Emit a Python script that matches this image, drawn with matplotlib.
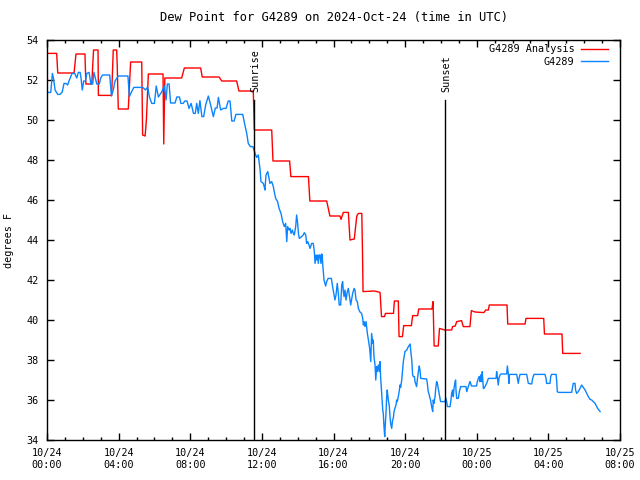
import matplotlib
matplotlib.use('Agg')
import matplotlib.pyplot as plt
import numpy as np

# hours since 2024-10-24 00:00 UTC
analysis_hours = [0.0, 0.54, 0.6, 1.51, 1.62, 2.12, 2.17, 2.5, 2.6, 2.85, 2.87, 3.61, 3.7, 3.89, 3.92, 3.98,
                  4.54, 4.67, 5.29, 5.34, 5.48, 5.55, 5.66, 6.48, 6.52, 6.58, 7.52, 7.67, 8.58, 8.67, 9.61,
                  9.76, 10.59, 10.72, 11.52, 11.58, 12.55, 12.62, 13.55, 13.62, 14.6, 14.68, 15.62, 15.8,
                  16.36, 16.42, 16.55, 16.83, 16.92, 17.16, 17.3, 17.39, 17.58, 17.62, 17.65, 18.28, 18.6,
                  18.68, 18.85, 18.9, 19.35, 19.4, 19.62, 19.66, 19.85, 19.92, 20.35, 20.42, 20.7, 20.76,
                  21.5, 21.56, 21.62, 21.85, 21.92, 22.2, 22.6, 22.65, 22.8, 22.88, 23.15, 23.25, 23.62,
                  23.7, 23.9, 24.4, 24.5, 24.65, 24.7, 25.69, 25.73, 26.7, 26.75, 27.74, 27.78, 28.76,
                  28.8, 29.77]
analysis_values = [53.33, 53.33, 52.35, 52.35, 53.3, 53.3, 51.8, 51.8, 53.5, 53.5, 51.23, 51.23, 53.5, 53.5,
                   52.8, 50.55, 50.55, 52.9, 52.9, 49.25, 49.2, 50.0, 52.3, 52.3, 48.8, 52.1, 52.1, 52.6,
                   52.6, 52.15, 52.15, 51.95, 51.95, 51.45, 51.45, 49.5, 49.5, 47.95, 47.95, 47.17, 47.17,
                   45.95, 45.95, 45.2, 45.2, 45.03, 45.38, 45.38, 44.0, 44.05, 45.2, 45.33, 45.33, 43.37,
                   41.42, 41.45, 41.38, 40.17, 40.17, 40.33, 40.33, 40.95, 40.95, 39.17, 39.17, 39.72,
                   39.72, 40.22, 40.22, 40.55, 40.55, 40.92, 38.7, 38.7, 39.58, 39.5, 39.5, 39.67, 39.7,
                   39.92, 39.97, 39.67, 39.67, 40.47, 40.4, 40.37, 40.5, 40.5, 40.75, 40.75, 39.8, 39.8,
                   40.08, 40.08, 39.3, 39.3, 38.33, 38.33]

station_hours = [0.0, 0.21, 0.3, 0.36, 0.45, 0.6, 0.73, 0.85, 0.95, 1.05, 1.15, 1.25, 1.4, 1.55, 1.66, 1.75,
                 1.85, 1.9, 1.97, 2.05, 2.15, 2.22, 2.35, 2.45, 2.55, 2.62, 2.7, 2.78, 2.92, 3.0, 3.1, 3.5,
                 3.6, 3.7, 3.8, 3.98, 4.52, 4.6, 4.72, 4.85, 5.35, 5.5, 5.62, 5.72, 5.85, 6.0, 6.1, 6.22,
                 6.4, 6.55, 6.65, 6.72, 6.82, 6.9, 7.15, 7.25, 7.4, 7.48, 7.6, 7.7, 7.82, 7.93, 8.05, 8.18,
                 8.28, 8.36, 8.45, 8.54, 8.65, 8.75, 8.86, 9.01, 9.14, 9.29, 9.4, 9.5, 9.57, 9.7, 9.85,
                 10.0, 10.12, 10.22, 10.32, 10.45, 10.55, 10.93, 11.07, 11.15,
                 11.24, 11.35, 11.5, 11.62, 11.71, 11.8, 11.9, 11.95, 12.08, 12.13, 12.17, 12.23, 12.33,
                 12.4, 12.45, 12.55, 12.64, 12.69, 12.77, 12.88, 12.96, 13.07, 13.16, 13.25, 13.33, 13.39,
                 13.44, 13.52, 13.57, 13.63, 13.7, 13.76, 13.81, 13.89, 13.94, 14.0, 14.04, 14.09, 14.22,
                 14.31, 14.37, 14.45, 14.5, 14.56, 14.63, 14.69, 14.78, 14.87, 14.93, 14.97, 15.02, 15.06,
                 15.12, 15.15, 15.2, 15.25, 15.3, 15.34, 15.37, 15.4, 15.47, 15.56, 15.62, 15.7, 15.88,
                 15.95, 16.03, 16.08, 16.14, 16.21, 16.27, 16.32, 16.4, 16.46, 16.51, 16.55, 16.59, 16.64,
                 16.7, 16.77, 16.83, 16.88, 16.96, 17.02, 17.07, 17.15, 17.2, 17.26, 17.33, 17.39, 17.44,
                 17.48, 17.57, 17.63, 17.67, 17.7, 17.76, 17.82, 17.89, 17.95, 18.02, 18.08, 18.13, 18.19,
                 18.22, 18.26, 18.32, 18.36, 18.41, 18.45, 18.5, 18.56, 18.6, 18.63, 18.69, 18.75, 18.78,
                 18.82, 18.86, 18.89, 18.93, 18.97, 19.0, 19.06, 19.12, 19.15, 19.19, 19.25, 19.3, 19.34,
                 19.38, 19.43, 19.49, 19.53, 19.56, 19.62, 19.68, 19.71, 19.75, 19.81, 19.86, 19.9, 19.96,
                 19.99, 20.09, 20.18, 20.24, 20.28, 20.31, 20.37, 20.42, 20.46, 20.52, 20.55, 20.61, 20.64,
                 20.68, 20.74, 20.79, 20.83, 20.87, 21.2, 21.24, 21.29, 21.35, 21.39, 21.42, 21.48, 21.54,
                 21.57, 21.61, 21.67, 21.72, 21.76, 21.8, 21.85, 21.91, 21.98,
                 22.23, 22.28, 22.32, 22.36, 22.51, 22.56, 22.6, 22.65, 22.69, 22.73, 22.79, 22.82, 22.84,
                 22.88, 22.97, 23.03, 23.1, 23.4, 23.44, 23.53, 23.62, 23.66, 23.71, 23.99, 24.03, 24.09,
                 24.14, 24.18, 24.22, 24.27, 24.31, 24.33, 24.37, 24.4, 24.46, 24.55, 24.65, 25.08, 25.11,
                 25.15, 25.2, 25.24, 25.3, 25.35, 25.67, 25.71, 25.76, 25.8, 25.82, 25.86, 26.23, 26.27,
                 26.32, 26.36, 26.42, 26.79, 26.83, 26.88, 27.07, 27.12, 27.2, 27.81, 27.87, 27.9, 28.09,
                 28.13, 28.18, 28.43, 28.46, 28.5, 28.56, 29.3, 29.36, 29.39, 29.49, 29.52, 29.58, 29.67,
                 29.77, 29.86, 29.95, 30.05, 30.14, 30.23, 30.33, 30.42, 30.51, 30.61, 30.7, 30.79, 30.89]
station_values = [51.38, 51.38, 52.33, 52.1, 51.5, 51.28, 51.28, 51.4, 51.83, 51.83, 51.75, 52.0, 52.33,
                  52.33, 52.1, 52.38, 52.38, 52.1, 51.5, 51.95, 51.95, 52.33, 52.38, 51.8, 51.8, 52.38,
                  52.1, 51.8, 51.8, 52.1, 52.25, 52.25, 51.2, 51.5, 51.95, 52.2, 52.2, 51.17, 51.4, 51.63,
                  51.63, 51.5, 51.65, 51.15, 50.83, 50.83, 51.7, 51.15, 51.4, 51.7, 51.0, 51.8, 51.8,
                  50.85, 50.85, 51.15, 51.15, 50.83, 50.83, 50.95, 50.95, 50.58, 50.83, 50.33, 50.33,
                  50.83, 50.33, 50.97, 50.17, 50.17, 50.75, 51.2, 50.75, 50.17, 50.6, 50.6, 51.13, 50.5,
                  50.58, 50.58, 50.95, 50.95, 49.95, 49.95, 50.28, 50.28, 49.67, 49.35,
                  48.83, 48.67, 48.67, 48.33, 48.13, 48.25, 47.5, 46.92, 46.83, 46.67, 46.5, 47.25, 47.42,
                  47.08, 46.83, 46.92, 46.67, 46.42, 46.08, 45.92, 45.58, 45.33, 44.92, 44.67, 44.83,
                  43.92, 44.67, 44.5, 44.58, 44.33, 44.5, 44.33, 44.25, 44.67, 45.25, 44.83, 44.33, 44.08,
                  44.17, 44.25, 44.37, 44.25, 43.83, 43.92, 43.75, 43.58, 43.83, 43.83, 43.42, 42.83,
                  43.25, 43.0, 43.25, 42.83, 43.25, 43.25, 42.83, 43.3, 43.25, 42.75, 42.0, 41.7, 41.92,
                  42.08, 42.08, 41.67, 41.25, 41.0, 41.25, 41.83, 41.33, 40.75, 40.75, 41.75, 41.92, 41.42,
                  41.17, 41.5, 41.0, 41.42, 41.58, 41.25, 40.75, 41.08, 41.33, 41.58, 41.5, 41.0, 40.92,
                  40.58, 40.47, 40.4, 40.33, 40.08, 39.75, 39.92, 39.67, 39.92, 39.33, 39.0, 38.58, 37.92,
                  39.33, 38.83, 39.0, 38.17, 37.75, 37.0, 37.67, 37.42, 37.75, 37.42, 37.92, 37.17, 36.33,
                  35.5, 35.33, 34.67, 34.17, 34.75, 35.33, 36.17, 36.5, 36.0, 35.67, 35.25, 34.83, 34.58,
                  35.0, 35.08, 35.42, 35.58, 35.75, 36.0, 35.92, 36.17, 36.5, 36.75, 36.63, 37.0, 37.5,
                  37.92, 38.25, 38.42, 38.5, 38.67, 38.75, 38.8, 38.5, 38.0, 37.25, 37.17, 37.17, 36.92,
                  36.75, 36.67, 37.0, 37.42, 37.7, 37.5, 37.08, 37.05, 36.83, 36.42, 36.25, 36.08, 36.0,
                  35.67, 35.42, 36.0, 35.83, 36.17, 36.67, 36.92, 36.83, 36.58, 36.25, 35.92,
                  35.92, 36.08, 35.92, 35.67, 35.67, 36.0, 36.33, 36.5, 36.17, 36.58, 36.92, 37.0, 36.5,
                  36.08, 36.08, 36.42, 36.67, 36.67, 36.42, 36.67, 36.92, 36.83, 36.7, 36.7, 36.92, 37.08,
                  37.17, 36.92, 37.25, 36.92, 37.42, 37.08, 36.58, 36.58, 36.67, 36.83, 37.08, 37.08,
                  37.42, 37.17, 36.75, 37.08, 37.25, 37.3, 37.3, 37.7, 37.33, 36.83, 37.25, 37.28, 37.28,
                  37.08, 36.83, 37.08, 37.28, 37.28, 37.08, 36.83, 36.8, 37.08, 37.28, 37.28, 37.08,
                  36.83, 36.83, 37.17, 37.28, 37.28, 37.0, 36.42, 36.38, 36.38, 36.67, 36.83, 36.83, 36.5,
                  36.33, 36.42, 36.58, 36.75, 36.63, 36.5, 36.33, 36.17, 36.03, 36.0, 35.92, 35.83, 35.67,
                  35.53, 35.42]

sunrise_hour = 11.56
sunset_hour = 22.23
marker_top = 51.0

tick_hours = [0, 4, 8, 12, 16, 20, 24, 28, 32]
tick_labels = ['10/24\n00:00', '10/24\n04:00', '10/24\n08:00', '10/24\n12:00', '10/24\n16:00',
               '10/24\n20:00', '10/25\n00:00', '10/25\n04:00', '10/25\n08:00']
y_ticks = list(range(34, 55, 2))

plt.rcParams['font.family'] = 'DejaVu Sans Mono'
plt.rcParams['font.size'] = 7.3

fig = plt.figure(figsize=(6.4, 4.8), dpi=100)
ax = fig.add_axes([47/640, 40/480, 573/640, 400/480])

ax.plot(analysis_hours, analysis_values, color='#ff0000', lw=1.0, label='G4289 Analysis')
ax.plot(station_hours, station_values, color='#0a84ff', lw=1.0, label='G4289')

# sunrise / sunset markers
ax.plot([sunrise_hour, sunrise_hour], [34, marker_top], color='black', lw=1.0)
ax.plot([sunset_hour, sunset_hour], [34, marker_top], color='black', lw=1.0)
ax.text(sunrise_hour + 0.1, marker_top + 0.4, 'Sunrise', rotation=90, ha='center', va='bottom')
ax.text(sunset_hour + 0.05, marker_top + 0.4, 'Sunset', rotation=90, ha='center', va='bottom')

ax.set_xlim(0, 32)
ax.set_ylim(34, 54)
ax.set_xticks(tick_hours)
ax.set_xticklabels(tick_labels)
ax.set_xticks(np.arange(0, 33, 1), minor=True)
ax.set_yticks(y_ticks)
ax.tick_params(which='major', direction='in', length=5, width=1, top=True, right=True, pad=6)
ax.tick_params(which='minor', direction='in', length=2.5, width=1, top=True, right=False)
ax.tick_params(axis='y', which='minor', left=False, right=False)
for s in ax.spines.values():
    s.set_linewidth(1.0)

ax.set_ylabel('degrees F', labelpad=9)
ax.set_title('Dew Point for G4289 on 2024-Oct-24 (time in UTC)', pad=14)

ax.legend(loc='upper right', bbox_to_anchor=(0.995, 1.012), frameon=False, markerfirst=False,
          handlelength=2.7, handletextpad=0.6, labelspacing=0.25)

fig.savefig('out.png', dpi=100)
